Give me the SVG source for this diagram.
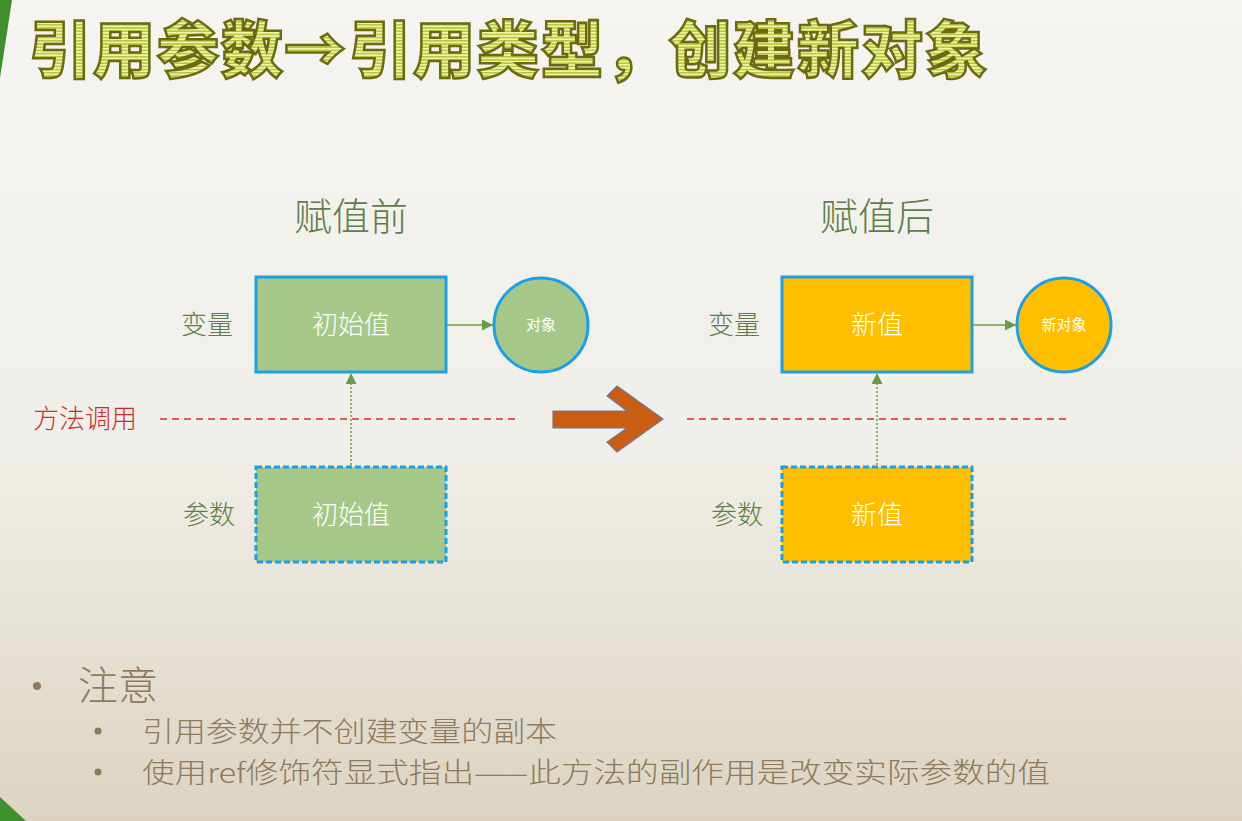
<svg xmlns="http://www.w3.org/2000/svg" width="1242" height="821" viewBox="0 0 1242 821">
  <defs>
    <linearGradient id="bg" x1="0" y1="0" x2="0" y2="1">
      <stop offset="0" stop-color="#f5f4f1"/>
      <stop offset="0.55" stop-color="#f0eee8"/>
      <stop offset="1" stop-color="#dcd4c1"/>
    </linearGradient>
    <pattern id="stripes" x="0" y="0" width="8" height="3.2" patternUnits="userSpaceOnUse">
      <rect width="8" height="3.2" fill="#eef4a8"/>
      <rect y="1.6" width="8" height="1.6" fill="#b9c83e"/>
    </pattern>
    <marker id="ah" viewBox="0 0 10 10" refX="10" refY="5" markerWidth="12" markerHeight="11" markerUnits="userSpaceOnUse" orient="auto">
      <path d="M0,0 L10,5 L0,10 z" fill="#6a9b45"/>
    </marker>
    <style>
      .cjk { font-family: "Noto Sans CJK SC", "Noto Sans", sans-serif; }
      .ttl { font-size: 62px; font-weight: 900; fill: url(#stripes); stroke: #6b6a12; stroke-width: 2.5; }
      .lbl { font-size: 26px; fill: #5e7d4c; font-weight: 300; }
      .hdr { font-size: 38px; fill: #5e7d4c; font-weight: 300; }
      .in { font-size: 26px; fill: #ffffff; font-weight: 300; }
      .insm { font-size: 15px; fill: #ffffff; }
      .box { stroke: #1aa0e6; stroke-width: 3; }
      .dash { stroke-dasharray: 6 3; }
      .green { fill: #a5c889; }
      .gold { fill: #ffbf00; }
      .call { stroke: #e0281e; stroke-width: 1.6; stroke-dasharray: 7 5; fill: none; }
      .dot { stroke: #6a9b45; stroke-width: 1.5; stroke-dasharray: 2 2; fill: none; }
      .sol { stroke: #6a9b45; stroke-width: 1.6; fill: none; }
      .note { fill: #8c7b5d; font-weight: 300; }
    </style>
  </defs>

  <rect width="1242" height="821" fill="url(#bg)"/>
  <polygon points="0,0 12,0 0,78" fill="#3f8f2e"/>
  <polygon points="0,797 26,821 0,821" fill="#3f8f2e"/>

  <g id="title">
    <text class="cjk ttl" y="73"><tspan x="29">引</tspan><tspan x="93">用</tspan><tspan x="157">参</tspan><tspan x="221">数</tspan></text>
    <text class="cjk ttl" y="73" x="315" text-anchor="middle" font-size="76">→</text>
    <text class="cjk ttl" y="73"><tspan x="349">引</tspan><tspan x="413">用</tspan><tspan x="477">类</tspan><tspan x="541">型</tspan><tspan x="605">，</tspan><tspan x="669">创</tspan><tspan x="733">建</tspan><tspan x="797">新</tspan><tspan x="861">对</tspan><tspan x="925">象</tspan></text>
  </g>

  <g id="headers">
    <text class="cjk hdr" x="351" y="230" text-anchor="middle">赋值前</text>
    <text class="cjk hdr" x="877" y="230" text-anchor="middle">赋值后</text>
  </g>

  <g id="labels-left">
    <text class="cjk lbl" x="207" y="334" text-anchor="middle">变量</text>
    <text class="cjk lbl" x="209" y="524" text-anchor="middle">参数</text>
    <text class="cjk lbl" x="85" y="428" text-anchor="middle" style="fill:#c9302a">方法调用</text>
  </g>
  <g id="labels-right">
    <text class="cjk lbl" x="734" y="334" text-anchor="middle">变量</text>
    <text class="cjk lbl" x="737" y="524" text-anchor="middle">参数</text>
  </g>

  <g id="connectors">
    <line class="call" x1="160" y1="419" x2="518" y2="419"/>
    <line class="call" x1="687" y1="419" x2="1066" y2="419"/>
    <line class="sol" x1="447" y1="325" x2="493" y2="325" marker-end="url(#ah)"/>
    <line class="sol" x1="973" y1="325" x2="1016" y2="325" marker-end="url(#ah)"/>
    <line class="dot" x1="351" y1="465" x2="351" y2="373" marker-end="url(#ah)"/>
    <line class="dot" x1="877" y1="465" x2="877" y2="373" marker-end="url(#ah)"/>
  </g>

  <g id="var-before">
    <rect class="box green" x="256" y="277" width="190" height="95"/>
    <text class="cjk in" x="351" y="334" text-anchor="middle">初始值</text>
  </g>
  <g id="obj-before">
    <circle class="box green" cx="541" cy="325" r="47"/>
    <text class="cjk insm" x="541" y="330" text-anchor="middle">对象</text>
  </g>
  <g id="param-before">
    <rect class="box dash green" x="256" y="467" width="190" height="95"/>
    <text class="cjk in" x="351" y="524" text-anchor="middle">初始值</text>
  </g>

  <g id="big-arrow">
    <polygon points="553,411 627,411 607,396 617,386 663,419 617,452 607,442 627,428 553,428" fill="#c95d12" stroke="#6d7a99" stroke-width="1.2"/>
  </g>

  <g id="var-after">
    <rect class="box gold" x="782" y="277" width="190" height="95"/>
    <text class="cjk in" x="877" y="334" text-anchor="middle">新值</text>
  </g>
  <g id="obj-after">
    <circle class="box gold" cx="1064" cy="325" r="47"/>
    <text class="cjk insm" x="1064" y="330" text-anchor="middle">新对象</text>
  </g>
  <g id="param-after">
    <rect class="box dash gold" x="782" y="467" width="190" height="95"/>
    <text class="cjk in" x="877" y="524" text-anchor="middle">新值</text>
  </g>

  <g id="notes">
    <circle cx="37" cy="686" r="4" fill="#8c7b5d"/>
    <text class="cjk note" x="78" y="700" font-size="40">注意</text>
    <circle cx="98" cy="731" r="3.5" fill="#8c7b5d"/>
    <text class="cjk note" x="142" y="742" font-size="28" textLength="415" lengthAdjust="spacingAndGlyphs">引用参数并不创建变量的副本</text>
    <circle cx="98" cy="772" r="3.5" fill="#8c7b5d"/>
    <text class="cjk note" x="142" y="783" font-size="28" textLength="908" lengthAdjust="spacingAndGlyphs">使用ref修饰符显式指出——此方法的副作用是改变实际参数的值</text>
  </g>
</svg>
